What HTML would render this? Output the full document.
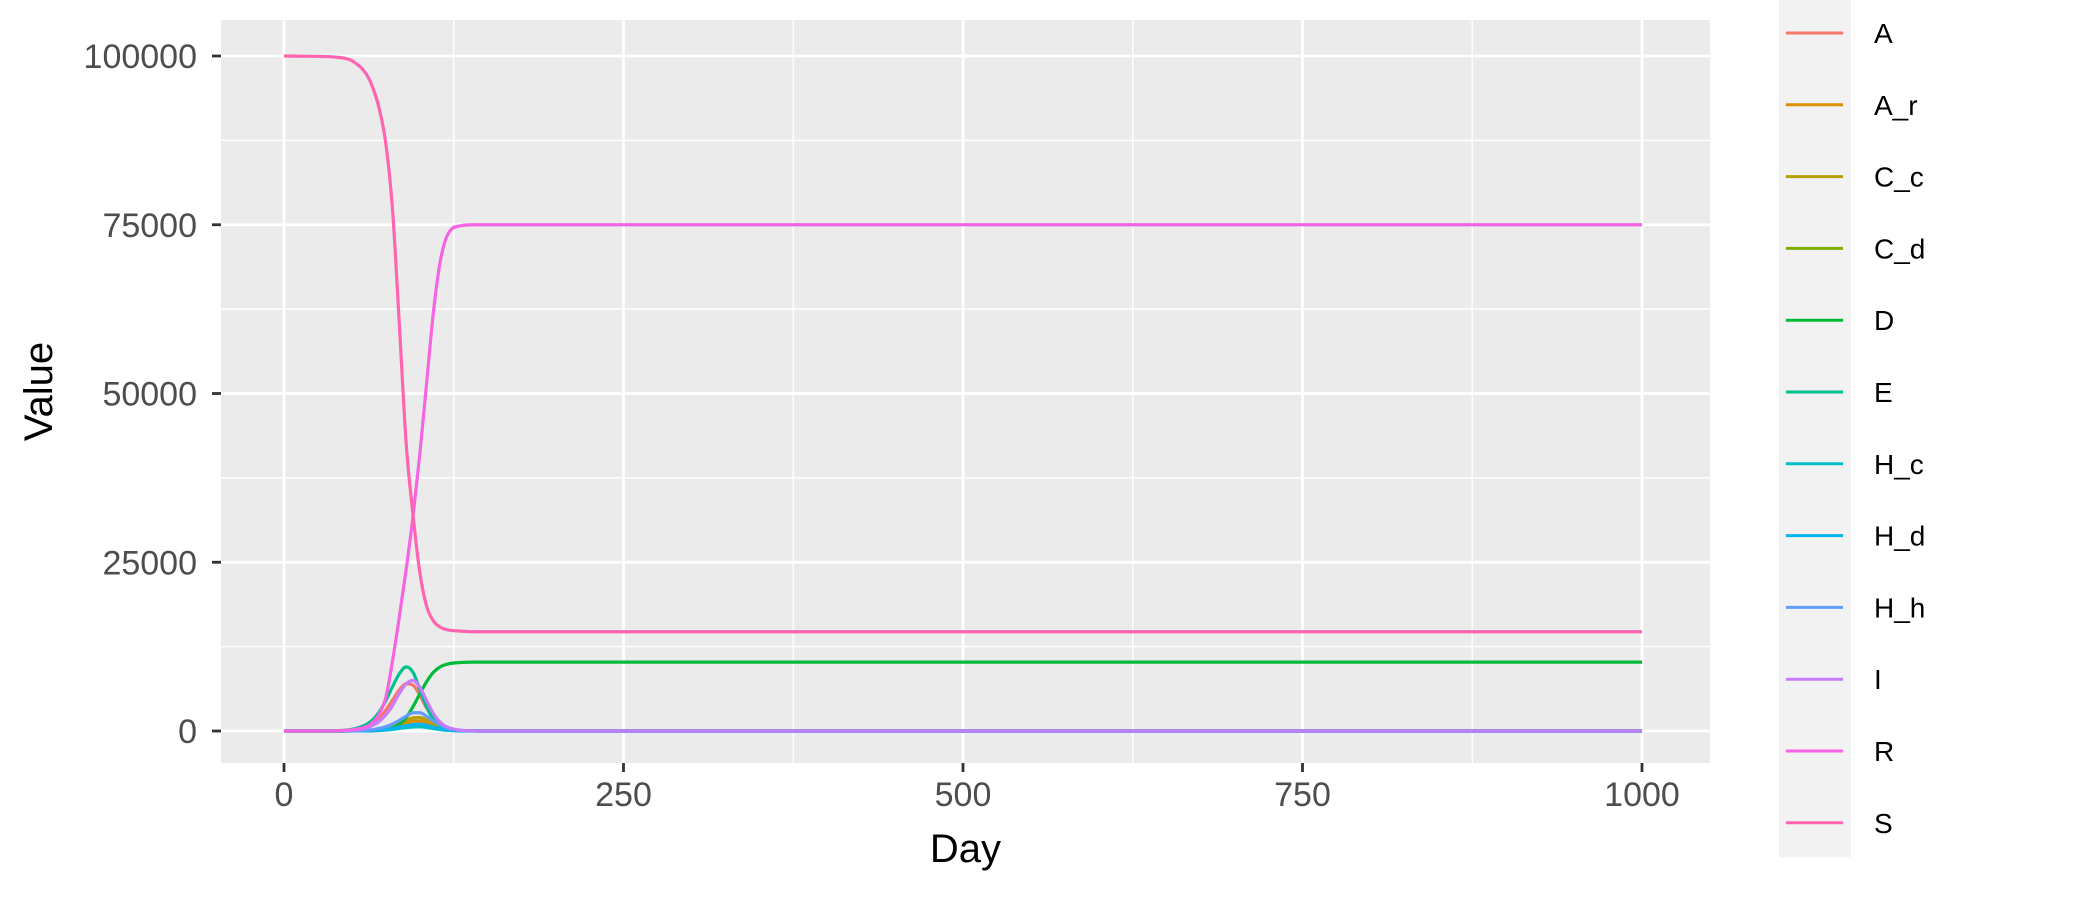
<!DOCTYPE html>
<html><head><meta charset="utf-8"><style>
body{margin:0;background:#fff;}
svg{display:block;font-family:"Liberation Sans",sans-serif;}
</style></head><body>
<svg id="chart" width="2100" height="900"></svg>
<script>
const days = [0,20,40,50,60,65,70,75,80,85,90,95,100,105,110,115,120,130,140,150,200,1000];
const seriesNames = ["A","A_r","C_c","C_d","D","E","H_c","H_d","H_h","I","R","S"];
const seriesColors = ["#F8766D","#DE8C00","#B79F00","#7CAE00","#00BA38","#00C08B","#00BFC4","#00B4F0","#619CFF","#C77CFF","#F564E3","#FF64B0"];
const valA   = [0,3,40,180,600,1100,1900,3100,4600,6100,7000,6800,5300,3400,1900,900,400,80,15,0,0,0];
const valA_r = [0,0,2,15,50,100,190,330,560,860,1200,1460,1500,1240,830,490,250,50,8,0,0,0];
const valC_c = [0,0,3,20,70,140,260,450,750,1150,1600,1950,2000,1650,1100,650,330,70,10,0,0,0];
const valC_d = [0,0,1,8,30,60,110,190,320,480,650,780,800,660,440,260,130,30,5,0,0,0];
const valD   = [0,0,0,5,20,40,90,200,450,1000,2000,3600,5500,7300,8700,9500,9900,10150,10200,10200,10200,10200];
const valE   = [0,5,60,250,900,1600,2800,4500,6600,8500,9500,8700,6200,3600,1800,800,350,60,10,0,0,0];
const valH_c = [0,0,1,6,22,45,85,145,240,370,500,600,620,520,350,210,100,20,3,0,0,0];
const valH_d = [0,0,2,10,35,70,130,230,380,580,780,950,1000,830,560,330,170,35,5,0,0,0];
const valH_h = [0,0,5,30,100,200,380,650,1050,1600,2200,2700,2700,2200,1500,900,450,100,20,0,0,0];
const valI   = [0,2,30,120,400,800,1400,2400,3800,5600,7000,7500,6500,4500,2600,1300,600,120,20,0,0,0];
const valR   = [0,0,50,200,600,1200,2500,5000,10500,17000,24000,31800,41000,51500,62000,69500,73300,74850,75000,75000,75000,75000];
const valS   = [100000,99950,99800,99300,97500,95500,92300,87000,77000,60000,42500,32000,23500,18500,16300,15400,15000,14800,14700,14700,14700,14700];
const allValues = [valA,valA_r,valC_c,valC_d,valD,valE,valH_c,valH_d,valH_h,valI,valR,valS];
const xTicks = [0,250,500,750,1000];
const xMinor = [125,375,625,875];
const yTicks = [0,25000,50000,75000,100000];
const yMinor = [12500,37500,62500,87500];

const NS="http://www.w3.org/2000/svg";
const svg=document.getElementById('chart');
const P={l:221,r:1710,t:20,b:763};
const x=v=>284+(v)*(1642-284)/1000;
const y=v=>731-(v)*(731-56)/100000;
function mk(tag,attrs,parent){const e=document.createElementNS(NS,tag);for(const k in attrs)e.setAttribute(k,attrs[k]);(parent||svg).appendChild(e);return e;}

const bg=mk('rect',{x:P.l,y:P.t,width:P.r-P.l,height:P.b-P.t,fill:'#EBEBEB'});


xMinor.forEach(v=>{const l=mk('line',{x1:x(v),x2:x(v),y1:P.t,y2:P.b,stroke:'#fff','stroke-width':1.4});

});
yMinor.forEach(v=>{const l=mk('line',{x1:P.l,x2:P.r,y1:y(v),y2:y(v),stroke:'#fff','stroke-width':1.4});

});
xTicks.forEach(v=>{const l=mk('line',{x1:x(v),x2:x(v),y1:P.t,y2:P.b,stroke:'#fff','stroke-width':2.8});


const t=mk('line',{x1:x(v),x2:x(v),y1:P.b,y2:P.b+9,stroke:'#333','stroke-width':2.8});


const tx=mk('text',{x:x(v),y:P.b+43,'text-anchor':'middle','font-size':34,fill:'#4D4D4D'});tx.textContent=v;

});
yTicks.forEach(v=>{const l=mk('line',{x1:P.l,x2:P.r,y1:y(v),y2:y(v),stroke:'#fff','stroke-width':2.8});


const t=mk('line',{x1:P.l-9,x2:P.l,y1:y(v),y2:y(v),stroke:'#333','stroke-width':2.8});


const tx=mk('text',{x:P.l-24,y:y(v)+12,'text-anchor':'end','font-size':34,fill:'#4D4D4D'});tx.textContent=v;

});

function monoPath(xs,ys){
  const n=xs.length,d=[],m=[];
  for(let i=0;i<n-1;i++)d.push((ys[i+1]-ys[i])/(xs[i+1]-xs[i]));
  m[0]=d[0];m[n-1]=d[n-2];
  for(let i=1;i<n-1;i++){m[i]=(d[i-1]*d[i]<=0)?0:(d[i-1]+d[i])/2;}
  for(let i=0;i<n-1;i++){if(d[i]===0){m[i]=0;m[i+1]=0;continue;}
    const a=m[i]/d[i],b=m[i+1]/d[i],s=a*a+b*b;if(s>9){const t=3/Math.sqrt(s);m[i]=t*a*d[i];m[i+1]=t*b*d[i];}}
  let p=`M${xs[0]},${ys[0]}`;
  for(let i=0;i<n-1;i++){const h=(xs[i+1]-xs[i])/3;
    p+=`C${xs[i]+h},${ys[i]+m[i]*h} ${xs[i+1]-h},${ys[i+1]-m[i+1]*h} ${xs[i+1]},${ys[i+1]}`;}
  return p;
}
const xs=days.map(x);
allValues.forEach((vals,i)=>{
  const p=mk('path',{d:monoPath(xs,vals.map(y)),fill:'none',stroke:seriesColors[i],'stroke-width':3.2,'stroke-linejoin':'round'});
  
  
});

const xt=mk('text',{x:(P.l+P.r)/2,y:862,'text-anchor':'middle','font-size':40,fill:'#000'});xt.textContent='Day';


const yt=mk('text',{x:0,y:0,'text-anchor':'middle','font-size':40,fill:'#000',transform:`translate(52,${(P.t+P.b)/2}) rotate(-90)`});yt.textContent='Value';



const lg=mk('g',{});


mk('rect',{x:1779,y:0,width:72,height:857,fill:'#F2F2F2'},lg);
seriesNames.forEach((nm,i)=>{
  const cy=33+i*71.8;
  const g=mk('g',{},lg);
  
  
  mk('line',{x1:1786,x2:1843,y1:cy,y2:cy,stroke:seriesColors[i],'stroke-width':3},g);
  const t=mk('text',{x:1874,y:cy+10,'font-size':28,fill:'#000'},g);t.textContent=nm;
});
</script>
</body></html>
